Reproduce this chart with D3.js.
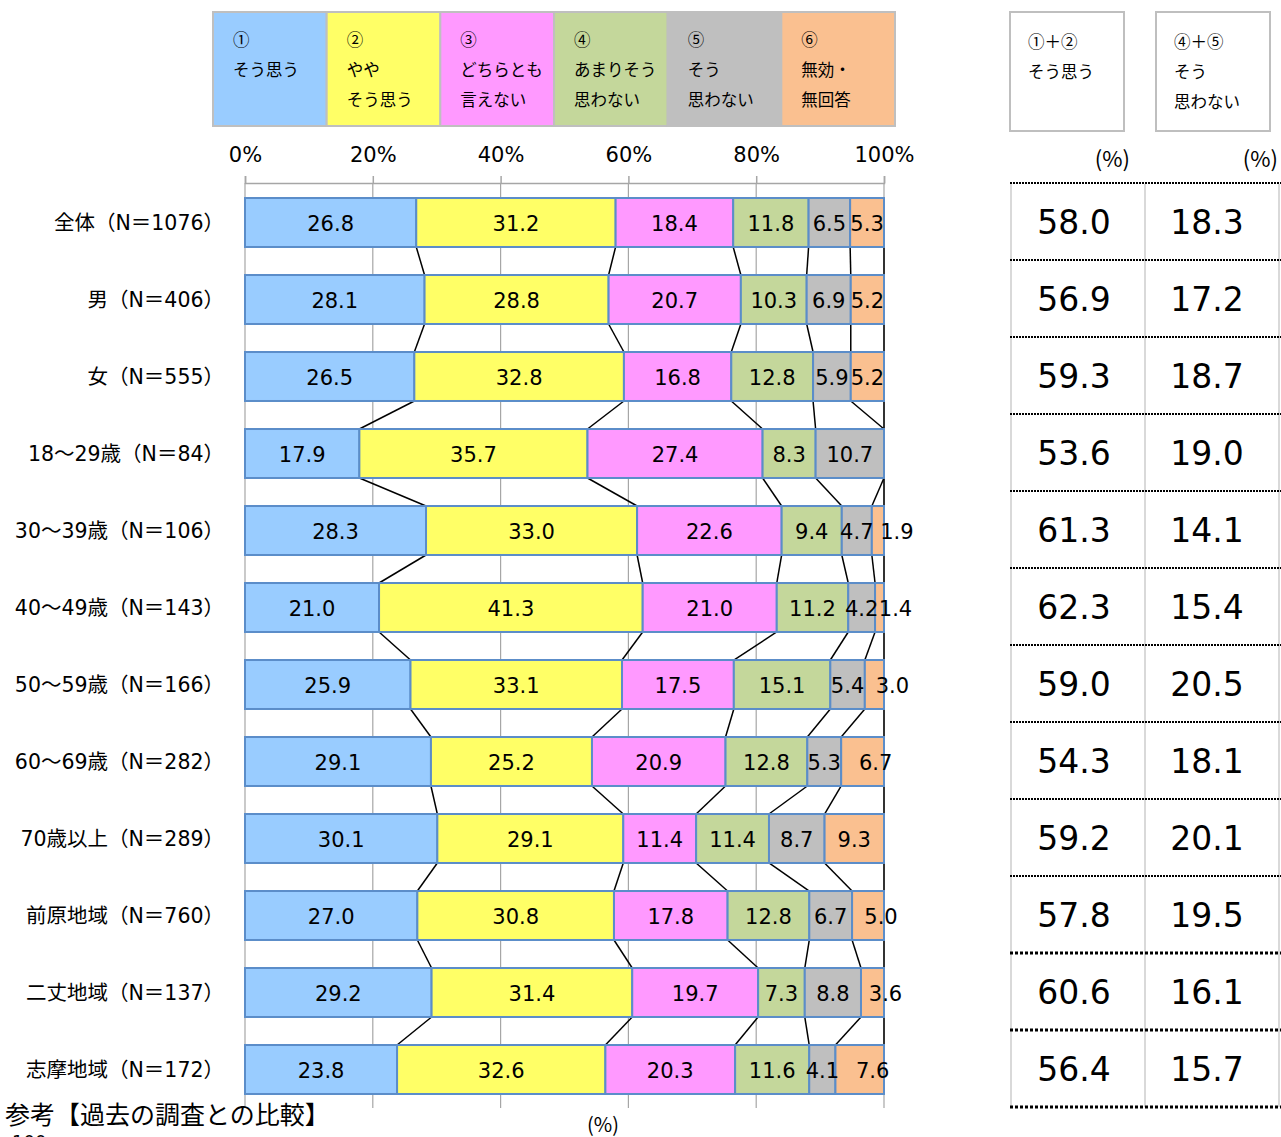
<!DOCTYPE html>
<html><head><meta charset="utf-8">
<script src="https://cdn.jsdelivr.net/npm/d3@7/dist/d3.min.js"></script>
<style>
html,body{margin:0;padding:0;background:#fff;}
svg{display:block;}
</style></head>
<body>
<svg id="chart" width="1281" height="1137"></svg>
<script>
// ---- data ----
const categories = ["全体（N＝1076）","男（N＝406）","女（N＝555）","18～29歳（N＝84）","30～39歳（N＝106）","40～49歳（N＝143）","50～59歳（N＝166）","60～69歳（N＝282）","70歳以上（N＝289）","前原地域（N＝760）","二丈地域（N＝137）","志摩地域（N＝172）"];
const seriesNames = [["①","そう思う"],["②","やや","そう思う"],["③","どちらとも","言えない"],["④","あまりそう","思わない"],["⑤","そう","思わない"],["⑥","無効・","無回答"]];
const s1 = [26.8,28.1,26.5,17.9,28.3,21.0,25.9,29.1,30.1,27.0,29.2,23.8];
const s2 = [31.2,28.8,32.8,35.7,33.0,41.3,33.1,25.2,29.1,30.8,31.4,32.6];
const s3 = [18.4,20.7,16.8,27.4,22.6,21.0,17.5,20.9,11.4,17.8,19.7,20.3];
const s4 = [11.8,10.3,12.8,8.3,9.4,11.2,15.1,12.8,11.4,12.8,7.3,11.6];
const s5 = [6.5,6.9,5.9,10.7,4.7,4.2,5.4,5.3,8.7,6.7,8.8,4.1];
const s6 = [5.3,5.2,5.2,0,1.9,1.4,3.0,6.7,9.3,5.0,3.6,7.6];
const agreeTotals = [58.0,56.9,59.3,53.6,61.3,62.3,59.0,54.3,59.2,57.8,60.6,56.4];
const disagreeTotals = [18.3,17.2,18.7,19.0,14.1,15.4,20.5,18.1,20.1,19.5,16.1,15.7];
const xTicks = [0,0.2,0.4,0.6,0.8,1.0];
const sumHeaders = [["①＋②","そう思う"],["④＋⑤","そう","思わない"]];

// ---- style ----
const colors = ["#99ccff","#ffff66","#ff99ff","#c4d79b","#bfbfbf","#fac090"];
const labelNudge = {"4-5":19,"5-5":16,"6-5":18,"7-5":13,"9-5":13,"10-5":13,"11-5":13};
const jp = "'Noto Sans CJK JP','Noto Sans',sans-serif";
const mix = "'DejaVu Sans','Noto Sans CJK JP',sans-serif";
const num = "'DejaVu Sans',Verdana,sans-serif";

const series = [s1,s2,s3,s4,s5,s6];
const svg = d3.select("#chart");

const x = d3.scaleLinear().domain([0,1]).range([245,884]);
const y = d3.scaleBand().domain(categories).range([184,1108]).paddingInner(0.364).paddingOuter(0.182);
const bh = y.bandwidth();

const rows = categories.map((c,i)=>{
  const vals = series.map(s=>s[i]);
  const tot = d3.sum(vals);
  let cum = 0;
  const segs = vals.map((v,k)=>{const a=cum/tot; cum+=v; return {k, v, a, b:cum/tot};});
  return {c, i, segs};
});

// gridlines
svg.append("g").selectAll("line").data(xTicks).join("line")
  .attr("x1",d=>x(d)).attr("x2",d=>x(d)).attr("y1",183).attr("y2",1108)
  .attr("stroke","#a6a6a6").attr("stroke-width",1.2);

// axis top
const axis = d3.axisTop(x).tickValues(xTicks).tickFormat(d3.format(".0%")).tickSize(7).tickPadding(14);
const ag = svg.append("g").attr("transform","translate(0,183)").call(axis);
ag.select(".domain").attr("stroke","#a6a6a6").attr("stroke-width",1.5);
ag.selectAll(".tick line").attr("stroke","#a6a6a6").attr("stroke-width",1.5);
ag.selectAll(".tick text").attr("font-family",num).attr("font-size",21).attr("fill","#000");

// connectors
const conG = svg.append("g");
for(let i=0;i<rows.length-1;i++){
  for(let k=0;k<6;k++){
    conG.append("line")
      .attr("x1",x(rows[i].segs[k].b)).attr("y1",y(categories[i])+bh)
      .attr("x2",x(rows[i+1].segs[k].b)).attr("y2",y(categories[i+1]))
      .attr("stroke","#000").attr("stroke-width",1.5);
  }
}

// bars
const barG = svg.append("g");
rows.forEach(r=>{
  barG.append("g").selectAll("rect").data(r.segs.filter(s=>s.v>0)).join("rect")
    .attr("x",s=>x(s.a)).attr("width",s=>x(s.b)-x(s.a))
    .attr("y",y(r.c)).attr("height",bh)
    .attr("fill",s=>colors[s.k]).attr("stroke","#5b8dc9").attr("stroke-width",2);
});
rows.forEach(r=>{
  barG.append("g").selectAll("text").data(r.segs.filter(s=>s.v>0)).join("text")
    .attr("x",s=>(x(s.a)+x(s.b))/2 + (labelNudge[r.i+"-"+s.k]||0))
    .attr("y",y(r.c)+bh/2+1).attr("dy","0.36em")
    .attr("text-anchor","middle").attr("font-family",num).attr("font-size",21).attr("fill","#000")
    .text(s=>s.v.toFixed(1));
});

// category labels
svg.append("g").selectAll("text").data(categories).join("text")
  .attr("x",224).attr("y",d=>y(d)+bh/2).attr("dy","0.36em")
  .attr("text-anchor","end").attr("font-family",mix).attr("font-size",20.5).attr("fill","#000")
  .text(d=>d);

// legend
const legW = (895-213)/6;
const lg = svg.append("g");
seriesNames.forEach((n,k)=>{
  const gx = 213 + k*legW;
  lg.append("rect").attr("x",gx).attr("y",12).attr("width",legW).attr("height",114)
    .attr("fill",colors[k]).attr("stroke","#bfbfbf").attr("stroke-width",2);
  n.forEach((t,j)=>{
    lg.append("text").attr("x",gx+20).attr("y",46+j*30)
      .attr("font-family",jp).attr("font-size",16.5).attr("fill","#000").text(t);
  });
});

// right headers
const hx = [1010,1156];
sumHeaders.forEach((h,k)=>{
  svg.append("rect").attr("x",hx[k]).attr("y",12).attr("width",114).attr("height",119)
    .attr("fill","#fff").attr("stroke","#bfbfbf").attr("stroke-width",2);
  h.forEach((t,j)=>{
    svg.append("text").attr("x",hx[k]+18).attr("y",48+j*30)
      .attr("font-family",jp).attr("font-size",16.5).attr("fill","#000").text(t);
  });
});
[1130,1278].forEach(px=>{
  svg.append("text").attr("x",px).attr("y",167).attr("text-anchor","end")
    .attr("font-family",jp).attr("font-size",22).attr("fill","#000").text("(%)");
});

// right table
const tg = svg.append("g");
[1011,1145,1279].forEach(px=>{
  tg.append("line").attr("x1",px).attr("x2",px).attr("y1",184).attr("y2",1107)
    .attr("stroke","#d9d9d9").attr("stroke-width",2);
});
d3.range(categories.length+1).forEach(j=>{
  const sy = 183+j*y.step();
  const bold = j>=10;
  tg.append("line").attr("x1",1010).attr("x2",1281).attr("y1",sy).attr("y2",sy)
    .attr("stroke","#000").attr("stroke-width",bold?3:2)
    .attr("stroke-dasharray",bold?"3,2":"2,1");
});
tg.selectAll("text.a").data(agreeTotals).join("text")
  .attr("x",1074).attr("y",(d,i)=>y(categories[i])+bh/2).attr("dy","0.36em")
  .attr("text-anchor","middle").attr("font-family",num).attr("font-size",33).attr("fill","#000")
  .text(d=>d.toFixed(1));
tg.selectAll("text.b").data(disagreeTotals).join("text")
  .attr("x",1207).attr("y",(d,i)=>y(categories[i])+bh/2).attr("dy","0.36em")
  .attr("text-anchor","middle").attr("font-family",num).attr("font-size",33).attr("fill","#000")
  .text(d=>d.toFixed(1));

// bottom texts
svg.append("text").attr("x",603).attr("y",1132).attr("text-anchor","middle")
  .attr("font-family",jp).attr("font-size",20).attr("fill","#000").text("(%)");
svg.append("text").attr("x",5).attr("y",1124)
  .attr("font-family",jp).attr("font-size",25).attr("fill","#000").text("参考【過去の調査との比較】");
svg.append("text").attr("x",12).attr("y",1148)
  .attr("font-family",num).attr("font-size",18).attr("fill","#000").text("100");
</script>
</body></html>
